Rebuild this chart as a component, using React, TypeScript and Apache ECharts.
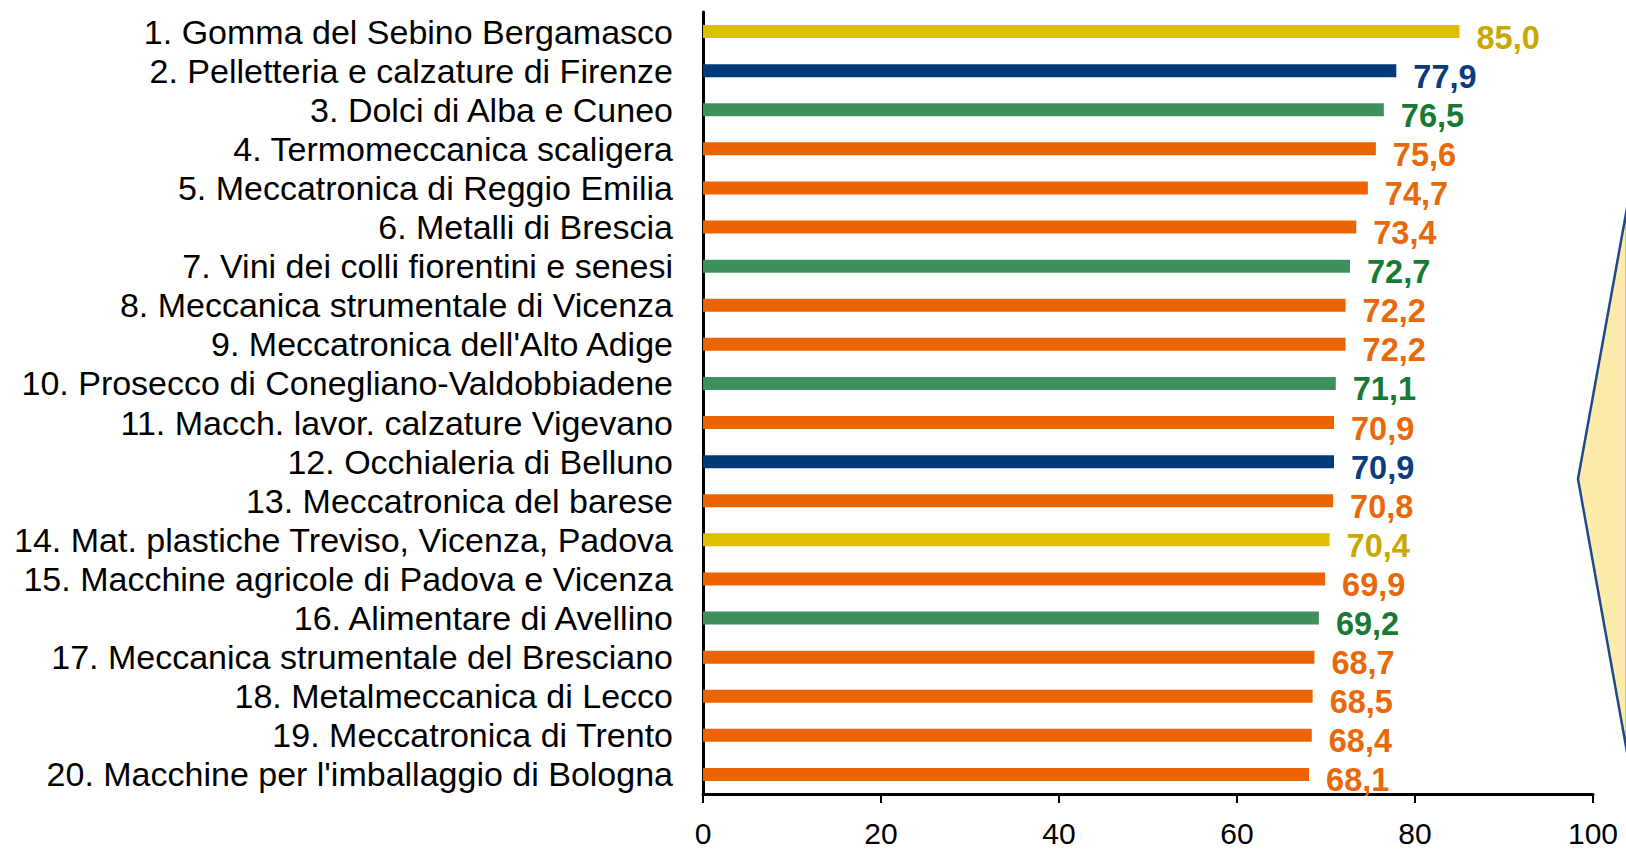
import React, { useEffect, useRef } from "react";
import * as echarts from "echarts";

const categories = [
  "1. Gomma del Sebino Bergamasco",
  "2. Pelletteria e calzature di Firenze",
  "3. Dolci di Alba e Cuneo",
  "4. Termomeccanica scaligera",
  "5. Meccatronica di Reggio Emilia",
  "6. Metalli di Brescia",
  "7. Vini dei colli fiorentini e senesi",
  "8. Meccanica strumentale di Vicenza",
  "9. Meccatronica dell'Alto Adige",
  "10. Prosecco di Conegliano-Valdobbiadene",
  "11. Macch. lavor. calzature Vigevano",
  "12. Occhialeria di Belluno",
  "13. Meccatronica del barese",
  "14. Mat. plastiche Treviso, Vicenza, Padova",
  "15. Macchine agricole di Padova e Vicenza",
  "16. Alimentare di Avellino",
  "17. Meccanica strumentale del Bresciano",
  "18. Metalmeccanica di Lecco",
  "19. Meccatronica di Trento",
  "20. Macchine per l'imballaggio di Bologna",
];

const values = [85.0, 77.9, 76.5, 75.6, 74.7, 73.4, 72.7, 72.2, 72.2, 71.1, 70.9, 70.9, 70.8, 70.4, 69.9, 69.2, 68.7, 68.5, 68.4, 68.1];

const groups = ["Y", "B", "G", "O", "O", "O", "G", "O", "O", "G", "O", "B", "O", "Y", "O", "G", "O", "O", "O", "O"];

const xTicks = [0, 20, 40, 60, 80, 100];

const barColors: Record<string, string> = { Y: "#DDBF00", B: "#003A78", G: "#40905C", O: "#EB6400" };
const labelColors: Record<string, string> = { Y: "#C9A800", B: "#0B3C7C", G: "#177A34", O: "#E8680A" };

const FONT = "'Liberation Sans', Arial, sans-serif";

export default function App() {
  const ref = useRef<HTMLDivElement>(null);
  useEffect(() => {
    if (!ref.current) return;
    const chart = echarts.init(ref.current, undefined, { renderer: "svg" });
    chart.setOption({
      animation: false,
      backgroundColor: "#ffffff",
      grid: { left: 703, right: 33, top: 12, bottom: 56, containLabel: false },
      xAxis: {
        type: "value",
        min: xTicks[0],
        max: xTicks[xTicks.length - 1],
        interval: 20,
        splitLine: { show: false },
        axisLine: { show: true, lineStyle: { color: "#000", width: 3 } },
        axisTick: { show: true, length: 9, lineStyle: { color: "#000", width: 2 } },
        axisLabel: {
          margin: 24,
          fontSize: 30,
          fontFamily: FONT,
          color: "#000",
          formatter: (v: number) => String(v),
        },
      },
      yAxis: {
        type: "category",
        inverse: true,
        data: categories,
        axisLine: { show: true, lineStyle: { color: "#000", width: 3 } },
        axisTick: { show: false },
        axisLabel: { interval: 0, margin: 30, fontSize: 34, fontFamily: FONT, color: "#000" },
      },
      series: [
        {
          type: "bar",
          barWidth: 13,
          data: values.map((v, i) => ({
            value: v,
            itemStyle: { color: barColors[groups[i]] },
            label: { color: labelColors[groups[i]] },
          })),
          label: {
            show: true,
            position: "right",
            distance: 17,
            offset: [0, 6],
            fontSize: 32.5,
            fontWeight: "bold",
            fontFamily: FONT,
            formatter: (p: any) => Number(p.value).toFixed(1).replace(".", ","),
          },
        },
      ],
      graphic: [
        {
          type: "polygon",
          shape: {
            points: [
              [1627, 208],
              [1578, 479],
              [1627, 752],
            ],
          },
          style: { fill: "#FCEBAA", stroke: "#1F4A8A", lineWidth: 2.5 },
          z: 10,
        },
      ],
    });
    return () => chart.dispose();
  }, []);
  return <div ref={ref} style={{ width: 1626, height: 850, position: "absolute", left: 0, top: 0 }} />;
}
